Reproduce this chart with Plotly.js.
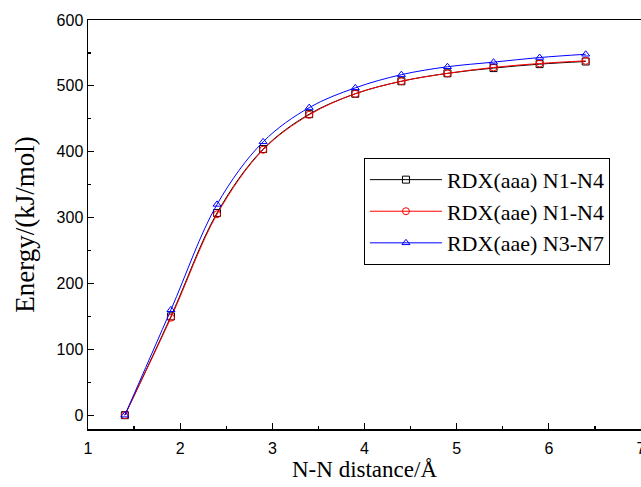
<!DOCTYPE html>
<html>
<head>
<meta charset="utf-8">
<script src="https://cdn.plot.ly/plotly-3.0.1.min.js"></script>
<style>html,body{margin:0;padding:0;background:#fff;}#chart{width:641px;height:487px;}</style>
</head>
<body>
<div id="chart"></div>
<script>
const distance = [1.4, 1.9, 2.4, 2.9, 3.4, 3.9, 4.4, 4.9, 5.4, 5.9, 6.4];
const aaaN1N4 = [0, 150, 307, 404, 457, 488, 507, 519, 527, 533, 537];
const aaeN1N4 = [0, 148, 305, 403, 456, 488, 507, 519, 528, 534, 538];
const aaeN3N7 = [0, 160, 320, 415, 467, 497, 517, 529, 536, 543, 548];
const seriesNames = ["RDX(aaa) N1-N4", "RDX(aae) N1-N4", "RDX(aae) N3-N7"];

function tr(y, name, color, symbol) {
  return {
    x: distance, y: y, name: name, type: 'scatter', mode: 'lines+markers',
    line: {color: color, width: 1, shape: 'spline', smoothing: 1},
    marker: {symbol: symbol, size: 7, color: color, line: {color: color, width: 1}},
    cliponaxis: false
  };
}
const data = [
  tr(aaaN1N4, seriesNames[0], '#000000', 'square-open'),
  tr(aaeN1N4, seriesNames[1], '#ff0000', 'circle-open'),
  tr(aaeN3N7, seriesNames[2], '#0000ff', 'triangle-up-open')
];
const tickFont = {family: 'Liberation Sans, Arial', size: 16, color: '#000'};
const layout = {
  width: 641, height: 487,
  margin: {l: 88, r: 0, t: 20, b: 58},
  paper_bgcolor: '#fff', plot_bgcolor: '#fff',
  showlegend: true,
  legend: {
    x: 0.499, y: 0.663, xanchor: 'left', yanchor: 'top',
    bordercolor: '#000', borderwidth: 1, bgcolor: '#fff',
    font: {family: 'Liberation Serif, Times New Roman', size: 22, color: '#000'},
    tracegroupgap: 0, itemwidth: 72
  },
  xaxis: {
    range: [1, 7], dtick: 1, tick0: 1,
    ticks: 'inside', ticklen: 6, tickwidth: 1.2, tickcolor: '#000',
    minor: {ticks: 'inside', ticklen: 3, dtick: 0.5, tick0: 1, tickcolor: '#000', tickwidth: 1.2},
    showline: true, linecolor: '#000', linewidth: 1.5, mirror: true,
    showgrid: false, zeroline: false, automargin: false,
    ticklabeloverflow: 'allow', ticklabelstandoff: 4,
    tickfont: tickFont,
    title: {text: 'N-N distance/Å', font: {family: 'Liberation Serif, Times New Roman', size: 23, color: '#000'}, standoff: 0}
  },
  yaxis: {
    range: [-21, 600], dtick: 100, tick0: 0,
    ticks: 'inside', ticklen: 6, tickwidth: 1.2, tickcolor: '#000',
    minor: {ticks: 'inside', ticklen: 3, dtick: 50, tick0: 0, tickcolor: '#000', tickwidth: 1.2},
    showline: true, linecolor: '#000', linewidth: 1.5, mirror: true,
    showgrid: false, zeroline: false, automargin: false,
    tickfont: tickFont,
    title: {text: 'Energy/(kJ/mol)', font: {family: 'Liberation Serif, Times New Roman', size: 27, color: '#000'}, standoff: 14}
  }
};
Plotly.newPlot('chart', data, layout, {displayModeBar: false, staticPlot: true});
</script>
</body>
</html>
